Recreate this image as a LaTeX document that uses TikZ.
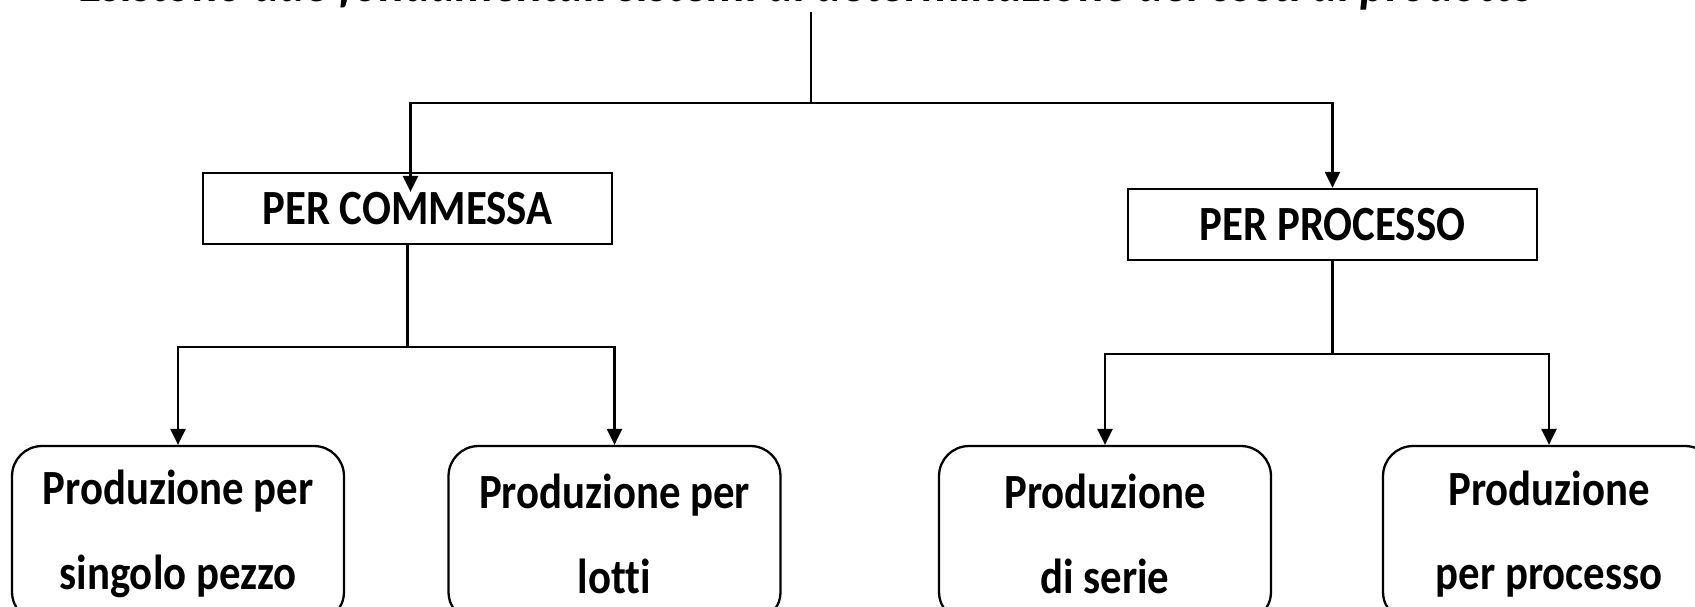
\documentclass[tikz,border=0pt]{standalone}
\usepackage{fontspec}
\setmainfont{Carlito}[FakeStretch=0.87, Ligatures=NoCommon]
\usetikzlibrary{arrows.meta,calc}
\tikzset{
	linea/.style={line width=1.3pt},
	freccia/.style={linea, -{Triangle[width=0.3cm,length=0.32cm]}},
	metodo/.style={draw, linea, minimum width=8.18cm, minimum height=1.42cm, font=\fontsize{28}{34}\selectfont\bfseries},
	produzione/.style={draw, linea, rounded corners=0.6cm, minimum width=6.64cm, minimum height=3.52cm, align=center, font=\fontsize{28}{48}\selectfont\bfseries}
}

\begin{document}
\begin{tikzpicture}[x=0.02cm, y=-0.02cm]
		%%%%% START %%%%%
		\useasboundingbox (0, 0) rectangle (1695, 606);
		
		\node[anchor=base, font=\fontsize{31.4}{36}\selectfont\bfseries\itshape] (titolo) at (808, 1) {Esistono due fondamentali sistemi di determinazione dei costi di prodotto};
		
		\node[metodo] (commessa) at (407.5, 208.5) {PER COMMESSA};
		\node[metodo] (processo) at (1332.5, 224.5) {PER PROCESSO};
		
		\node[produzione] (singolo) at (178, 534) {Produzione per\\singolo pezzo};
		\node[produzione] (lotti) at (614.5, 534) {Produzione per\\lotti};
		\node[produzione] (serie) at (1105, 534) {Produzione\\di serie};
		\node[produzione] (perprocesso) at (1549, 534) {Produzione\\per processo};
		
		\coordinate (radice) at (811, 12);
		\coordinate (bivio) at (811, 103);
		\draw[linea] (radice) -- (bivio);
		\draw[freccia] (bivio) -| ([shift={(3, 20)}]commessa.north);
		\draw[freccia] (bivio) -| (processo.north);
		
		\draw[linea] (commessa.south) -- ++(0, 102) coordinate (bivioc);
		\draw[freccia] (bivioc) -| (singolo.north);
		\draw[freccia] (bivioc) -| (lotti.north);
		
		\draw[linea] (processo.south) -- ++(0, 93) coordinate (biviop);
		\draw[freccia] (biviop) -| (serie.north);
		\draw[freccia] (biviop) -| (perprocesso.north);
		%%%%% END %%%%%
	\end{tikzpicture}
\end{document}
